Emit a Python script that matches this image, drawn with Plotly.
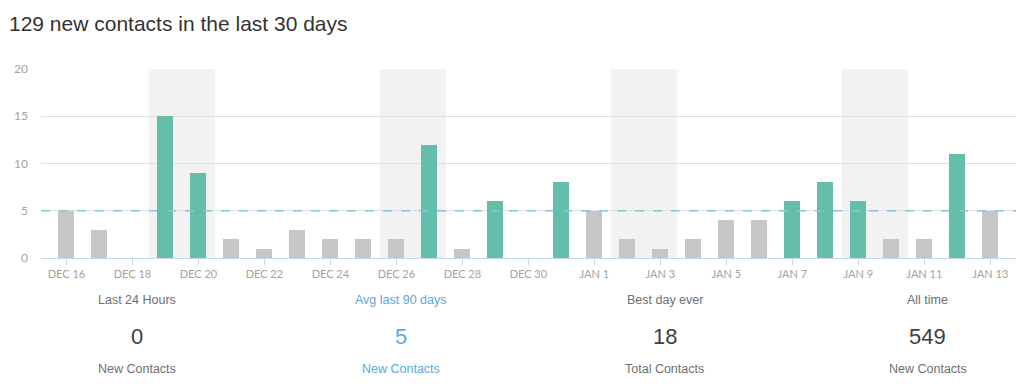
import plotly.graph_objects as go
import pandas as pd

# ---- data ----
start_date = "2015-12-16"
values = [5, 3, 0, 15, 9, 2, 1, 3, 2, 2, 2, 12, 1, 6, 0, 8,
          5, 2, 1, 2, 4, 4, 6, 8, 6, 2, 2, 11, 5]
avg_90 = 5
title_text = "129 new contacts in the last 30 days"
stat_titles = ["Last 24 Hours", "Avg last 90 days", "Best day ever", "All time"]
stat_values = ["0", "5", "18", "549"]
stat_units = ["New Contacts", "New Contacts", "Total Contacts", "New Contacts"]
stat_highlight = [False, True, False, False]

dates = pd.date_range(start_date, periods=len(values), freq="D")
idx = list(range(len(values)))
labels = [d.strftime("%b ").upper() + str(d.day) for d in dates]
weekend = [d.dayofweek >= 5 for d in dates]

GREEN = "#65bea9"
GREY = "#c6c6c6"
BLUE = "#5aa9e0"
colors = [GREEN if v > avg_90 else GREY for v in values]

OFF = 8  # page body margin
PL, PT, PB = 41, 69, 258.3  # plot area in window pixels
PW = 1024 - PL
PH = PB - PT

fig = go.Figure()
fig.add_trace(go.Bar(x=idx, y=values, marker=dict(color=colors, line=dict(width=0)),
                     width=0.48, hoverinfo="skip"))

shapes = []
for i, w in enumerate(weekend):
    if w:
        shapes.append(dict(type="rect", xref="x", yref="paper", x0=i - 0.5, x1=i + 0.5,
                           y0=0, y1=1, fillcolor="#f2f2f2", line=dict(width=0),
                           layer="between"))
shapes.append(dict(type="line", xref="paper", yref="y", x0=0, x1=1, y0=avg_90, y1=avg_90,
                   line=dict(color="#8cc2d9", width=1.5, dash="dash"), layer="above"))


def px_x(p):
    return (p - PL) / PW


def px_y(p):
    return (PB - p) / PH


FONT = "Liberation Sans, Arial"
annotations = [dict(text=title_text, xref="paper", yref="paper", x=px_x(6.5), y=px_y(23.5),
                    xanchor="left", yanchor="middle", showarrow=False,
                    font=dict(family=FONT, size=21, color="#333333"))]
centers = [137, 400.5, 664.5, 927.5]
for c, t, v, u, h in zip(centers, stat_titles, stat_values, stat_units, stat_highlight):
    px = px_x(c)
    col_lab = BLUE if h else "#6d7073"
    col_num = BLUE if h else "#404040"
    annotations.append(dict(text=t, xref="paper", yref="paper", x=px, y=px_y(300),
                            xanchor="center", yanchor="middle", showarrow=False,
                            font=dict(family=FONT, size=12.5, color=col_lab)))
    annotations.append(dict(text=v, xref="paper", yref="paper", x=px, y=px_y(337),
                            xanchor="center", yanchor="middle", showarrow=False,
                            font=dict(family=FONT, size=22, color=col_num)))
    annotations.append(dict(text=u, xref="paper", yref="paper", x=px, y=px_y(369),
                            xanchor="center", yanchor="middle", showarrow=False,
                            font=dict(family=FONT, size=12.5, color=col_lab)))

fig.update_layout(
    width=1024 - OFF, height=384 - OFF,
    margin=dict(l=PL - OFF, r=0, t=PT - OFF, b=384 - PB, pad=0),
    paper_bgcolor="white", plot_bgcolor="white",
    showlegend=False,
    shapes=shapes, annotations=annotations,
    bargap=0,
    xaxis=dict(range=[-0.77, 29.02], tickmode="array", tickvals=idx[::2], ticktext=labels[::2],
               showgrid=False, zeroline=False, showline=True, linecolor="#c5d7ea", linewidth=1,
               ticks="outside", ticklen=6, tickcolor="#c5d7ea", tickwidth=1,
               tickfont=dict(family="Lato", size=11, color="#a3a3a3"), fixedrange=True),
    yaxis=dict(range=[0, 20], tickvals=[0, 5, 10, 15, 20], showgrid=True, gridcolor="#e0e0e0",
               gridwidth=1, zeroline=False, showline=False, ticks="",
               ticklabelstandoff=12,
               tickfont=dict(family="Lato", size=12, color="#a3a3a3"), fixedrange=True),
)

fig.write_html("out.html", config={"displayModeBar": False})
